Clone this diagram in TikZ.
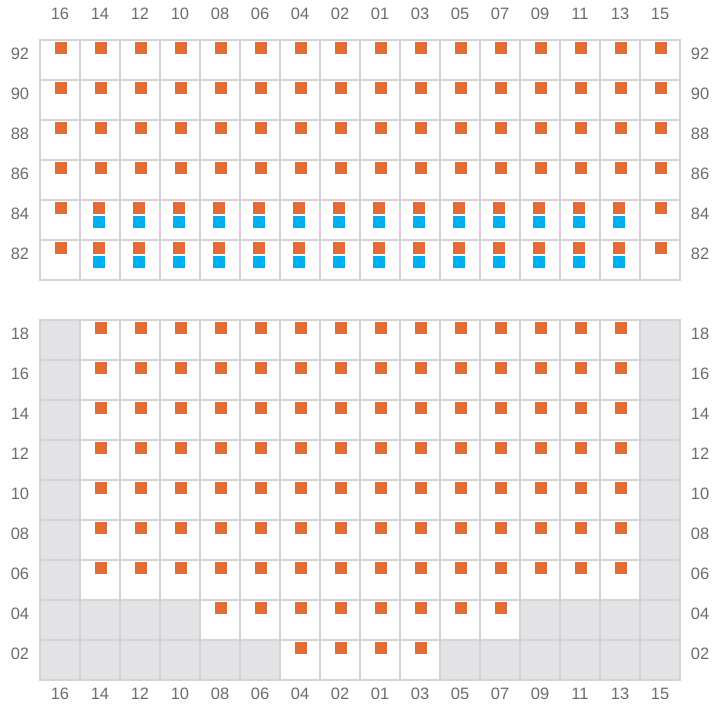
\documentclass[tikz,border=0pt]{standalone}
\usepackage{fontspec}
\setmainfont{Liberation Sans}
\definecolor{gridgray}{RGB}{212,212,216}
\definecolor{blockgray}{RGB}{228,228,230}
\definecolor{labelgray}{RGB}{108,108,114}
\definecolor{seatorange}{RGB}{227,108,54}
\definecolor{seatblue}{RGB}{0,174,239}

\begin{document}
\begin{tikzpicture}[
    x=1pt, y=-1pt,
    cell/.style={draw=gridgray, line width=1.3pt, line cap=rect},
    blocked/.style={fill=blockgray},
    orangemark/.style={fill=seatorange},
    bluemark/.style={fill=seatblue},
    numlabel/.style={font=\fontsize{16.5}{18}\selectfont, text=labelgray, inner sep=0pt}
]
\useasboundingbox (0,0) rectangle (720,720);

% column labels, top and bottom
\foreach \lab [count=\i] in {16,14,12,10,08,06,04,02,01,03,05,07,09,11,13,15} {
    \node[numlabel] (top-\i) at (40*\i+20,14) {\lab};
    \node[numlabel] (bot-\i) at (40*\i+20,694) {\lab};
}

% row labels, upper block
\foreach \lab [count=\j] in {92,90,88,86,84,82} {
    \node[numlabel] (ul-\j) at (20,40*\j+14) {\lab};
    \node[numlabel] (ur-\j) at (700,40*\j+14) {\lab};
}
% row labels, lower block
\foreach \lab [count=\j] in {18,16,14,12,10,08,06,04,02} {
    \node[numlabel] (ll-\j) at (20,294+40*\j) {\lab};
    \node[numlabel] (lr-\j) at (700,294+40*\j) {\lab};
}

% blocked cells in the lower block
\foreach \j in {1,...,7} {
    \fill[blocked] (40,280+40*\j) rectangle ++(40,40);
    \fill[blocked] (640,280+40*\j) rectangle ++(40,40);
}
\fill[blocked] (40,600) rectangle (200,640);
\fill[blocked] (520,600) rectangle (680,640);
\fill[blocked] (40,640) rectangle (280,680);
\fill[blocked] (440,640) rectangle (680,680);

% grid lines
\foreach \i in {1,...,17} {
    \draw[cell] (40*\i,40) -- (40*\i,280);
    \draw[cell] (40*\i,320) -- (40*\i,680);
}
\foreach \j in {1,...,7}
    \draw[cell] (40,40*\j) -- (680,40*\j);
\foreach \j in {0,...,9}
    \draw[cell] (40,320+40*\j) -- (680,320+40*\j);

% upper block markers
\foreach \j in {1,...,4}
    \foreach \i in {1,...,16}
        \fill[orangemark] (40*\i+15,40*\j+2) rectangle ++(12,12);
\foreach \j in {5,6} {
    \fill[orangemark] (55,40*\j+2) rectangle ++(12,12);
    \fill[orangemark] (655,40*\j+2) rectangle ++(12,12);
    \foreach \i in {2,...,15} {
        \fill[orangemark] (40*\i+13,40*\j+2) rectangle ++(12,12);
        \fill[bluemark] (40*\i+13,40*\j+16) rectangle ++(12,12);
    }
}

% lower block markers
\foreach \j in {1,...,7}
    \foreach \i in {2,...,15}
        \fill[orangemark] (40*\i+15,282+40*\j) rectangle ++(12,12);
\foreach \i in {5,...,12}
    \fill[orangemark] (40*\i+15,602) rectangle ++(12,12);
\foreach \i in {7,...,10}
    \fill[orangemark] (40*\i+15,642) rectangle ++(12,12);
\end{tikzpicture}
\end{document}
